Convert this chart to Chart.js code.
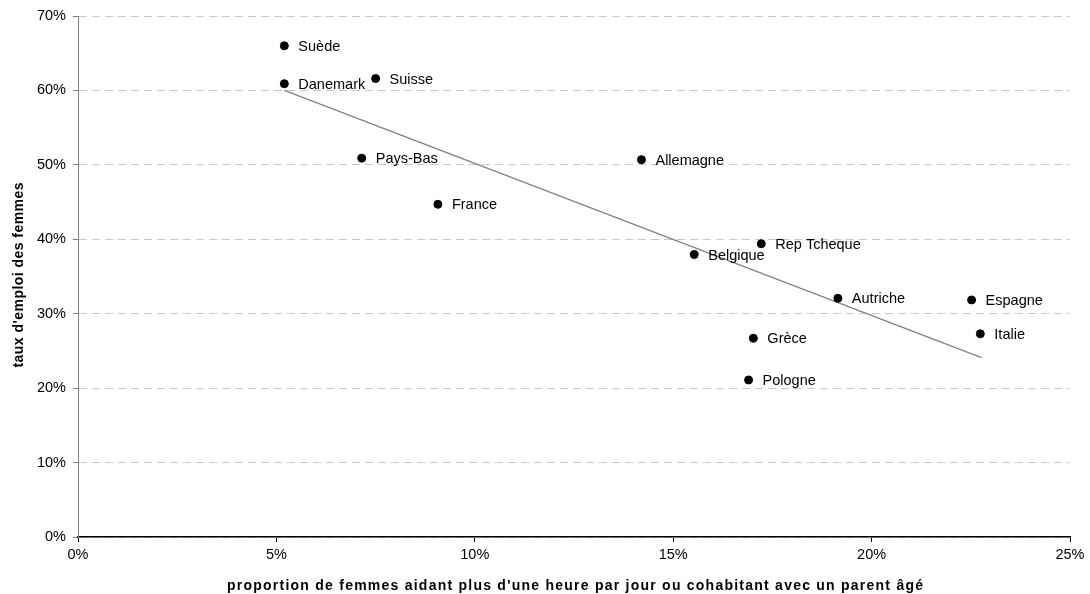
<!DOCTYPE html>
<html>
<head>
<meta charset="utf-8">
<script src="https://cdn.jsdelivr.net/npm/chart.js@4"></script>
<style>
html,body{margin:0;padding:0;background:#fff;}
#wrap{width:1090px;height:594px;position:relative;}
</style>
</head>
<body>
<div id="wrap"><canvas id="c" width="1090" height="594"></canvas></div>
<script>
const countries = ["Suède","Danemark","Suisse","Pays-Bas","France","Allemagne","Rep Tcheque","Belgique","Autriche","Espagne","Italie","Grèce","Pologne"];
const aidants = [5.2, 5.2, 7.5, 7.15, 9.07, 14.2, 17.22, 15.53, 19.15, 22.52, 22.74, 17.02, 16.9];
const emploi = [66.0, 60.9, 61.6, 50.9, 44.7, 50.7, 39.4, 37.95, 32.07, 31.85, 27.3, 26.7, 21.1];
const trendX = [5.2, 22.77];
const trendY = [60.0, 24.1];
const xTicks = [0, 5, 10, 15, 20, 25];
const yTicks = [0, 10, 20, 30, 40, 50, 60, 70];
const xTitle = "proportion de femmes aidant plus d'une heure par jour ou cohabitant avec un parent âgé";
const yTitle = "taux d'emploi des femmes";

const FONT = "'Liberation Sans', Arial, sans-serif";

function drawSpaced(ctx, text, cx, cy, targetWidth) {
  ctx.letterSpacing = '0px';
  const w = ctx.measureText(text).width;
  const sp = Math.max(0, (targetWidth - w) / (text.length - 1));
  ctx.letterSpacing = sp + 'px';
  const w2 = ctx.measureText(text).width;
  ctx.textAlign = 'left';
  ctx.fillText(text, cx - w2 / 2 + sp / 2, cy);
  ctx.letterSpacing = '0px';
}

const labelPlugin = {
  id: 'pointLabels',
  afterDatasetsDraw(chart) {
    const meta = chart.getDatasetMeta(0);
    const ctx = chart.ctx;
    ctx.save();
    ctx.font = "14.5px " + FONT;
    ctx.fillStyle = "#000";
    ctx.textBaseline = "middle";
    ctx.textAlign = "left";
    meta.data.forEach((pt, i) => {
      ctx.fillText(countries[i], pt.x + 14, pt.y + 1);
    });
    ctx.restore();
  },
  afterDraw(chart) {
    const ctx = chart.ctx;
    ctx.save();
    ctx.font = "bold 14px " + FONT;
    ctx.fillStyle = "#000";
    ctx.textBaseline = "alphabetic";
    drawSpaced(ctx, xTitle, 575, 590, 696);
    ctx.translate(23, 275);
    ctx.rotate(-Math.PI / 2);
    drawSpaced(ctx, yTitle, 0, 0, 185);
    ctx.restore();
  }
};

new Chart(document.getElementById('c'), {
  type: 'scatter',
  data: {
    datasets: [
      {
        data: aidants.map((x, i) => ({x: x, y: emploi[i]})),
        backgroundColor: '#000',
        borderColor: '#000',
        pointRadius: 4,
        pointHoverRadius: 4,
        order: 1
      },
      {
        data: trendX.map((x, i) => ({x: x, y: trendY[i]})),
        showLine: true,
        borderColor: '#808080',
        borderWidth: 1.2,
        pointRadius: 0,
        fill: false,
        order: 2
      }
    ]
  },
  options: {
    responsive: false,
    animation: false,
    events: [],
    layout: {padding: {left: 0, right: 20, top: 16, bottom: 0}},
    plugins: {legend: {display: false}, tooltip: {enabled: false}},
    scales: {
      x: {
        type: 'linear',
        min: 0, max: 25,
        afterBuildTicks: (s) => { s.ticks = xTicks.map(v => ({value: v})); },
        afterFit: (s) => { s.height = 57; },
        ticks: {
          color: '#000',
          font: {family: FONT, size: 14.5},
          padding: 4,
          maxRotation: 0,
          callback: (v) => v + '%'
        },
        grid: {drawOnChartArea: false, drawTicks: true, tickLength: 5, tickColor: '#000'},
        border: {display: true, color: '#000', width: 1.5},
        title: {display: false}
      },
      y: {
        type: 'linear',
        min: 0, max: 70,
        afterBuildTicks: (s) => { s.ticks = yTicks.map(v => ({value: v})); },
        afterFit: (s) => { s.width = 78; },
        ticks: {
          color: '#000',
          font: {family: FONT, size: 14.5},
          padding: 7,
          callback: (v) => v + '%'
        },
        grid: {color: '#c8c8c8', lineWidth: 1, drawTicks: true, tickLength: 5, tickColor: '#808080'},
        border: {display: true, color: '#808080', width: 1, dash: [8, 5]},
        title: {display: false}
      }
    }
  },
  plugins: [labelPlugin]
});
</script>
</body>
</html>
